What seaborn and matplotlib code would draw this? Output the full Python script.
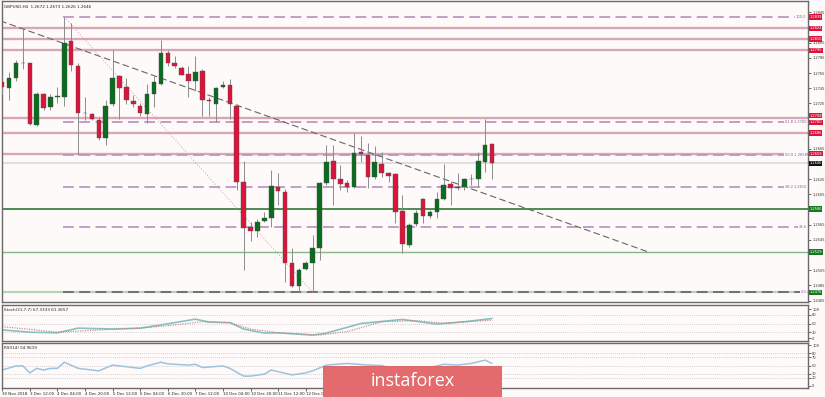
import numpy as np
import pandas as pd
import seaborn as sns
import matplotlib.pyplot as plt
from matplotlib.patches import Rectangle

# ===== DATA (GBPUSD H4) =====
opens = [1.2753, 1.2746, 1.2758, 1.2779, 1.2778, 1.2696, 1.2738, 1.2720, 1.2733, 1.2734,
         1.2808, 1.2775, 1.2712, 1.2711, 1.2703, 1.2679, 1.2724, 1.2761, 1.2747, 1.2728,
         1.2722, 1.2711, 1.2738, 1.2751, 1.2792, 1.2778, 1.2772, 1.2764, 1.2755, 1.2768,
         1.2729, 1.2724, 1.2747, 1.2749, 1.2722, 1.2621, 1.2562, 1.2557, 1.2570, 1.2574,
         1.2615, 1.2608, 1.2514, 1.2484, 1.2507, 1.2514, 1.2535, 1.2620, 1.2649, 1.2625,
         1.2620, 1.2615, 1.2661, 1.2657, 1.2628, 1.2645, 1.2633, 1.2632, 1.2583, 1.2539,
         1.2566, 1.2599, 1.2576, 1.2582, 1.2599, 1.2619, 1.2614, 1.2615, 1.2625, 1.2625,
         1.2648, 1.2672]
highs = [1.2755, 1.2766, 1.2782, 1.2824, 1.2779, 1.2740, 1.2739, 1.2738, 1.2747, 1.2839,
         1.2831, 1.2778, 1.2733, 1.2713, 1.2707, 1.2729, 1.2796, 1.2763, 1.2759, 1.2736,
         1.2726, 1.2751, 1.2761, 1.2809, 1.2795, 1.2788, 1.2775, 1.2775, 1.2788, 1.2771,
         1.2733, 1.2747, 1.2754, 1.2757, 1.2724, 1.2649, 1.2569, 1.2573, 1.2582, 1.2637,
         1.2633, 1.2612, 1.2535, 1.2508, 1.2517, 1.2552, 1.2621, 1.2670, 1.2670, 1.2644,
         1.2624, 1.2686, 1.2682, 1.2673, 1.2669, 1.2661, 1.2635, 1.2633, 1.2604, 1.2568,
         1.2585, 1.2600, 1.2585, 1.2608, 1.2645, 1.2623, 1.2633, 1.2627, 1.2632, 1.2661,
         1.2705, 1.2673]
lows = [1.2737, 1.2730, 1.2755, 1.2771, 1.2697, 1.2695, 1.2716, 1.2716, 1.2726, 1.2721,
        1.2768, 1.2657, 1.2703, 1.2703, 1.2677, 1.2670, 1.2721, 1.2705, 1.2724, 1.2720,
        1.2709, 1.2699, 1.2720, 1.2749, 1.2775, 1.2772, 1.2762, 1.2733, 1.2742, 1.2709,
        1.2709, 1.2700, 1.2745, 1.2705, 1.2611, 1.2506, 1.2543, 1.2549, 1.2569, 1.2562,
        1.2591, 1.2490, 1.2483, 1.2477, 1.2505, 1.2476, 1.2519, 1.2618, 1.2591, 1.2611,
        1.2608, 1.2614, 1.2648, 1.2614, 1.2625, 1.2628, 1.2621, 1.2568, 1.2528, 1.2536,
        1.2564, 1.2568, 1.2574, 1.2574, 1.2598, 1.2591, 1.2611, 1.2611, 1.2618, 1.2615,
        1.2635, 1.2626]
closes = [1.2747, 1.2758, 1.2779, 1.2778, 1.2698, 1.2738, 1.2719, 1.2733, 1.2735, 1.2805,
          1.2776, 1.2713, 1.2713, 1.2704, 1.2679, 1.2721, 1.2759, 1.2746, 1.2729, 1.2724,
          1.2712, 1.2738, 1.2753, 1.2792, 1.2779, 1.2774, 1.2763, 1.2754, 1.2767, 1.2729,
          1.2728, 1.2746, 1.2749, 1.2724, 1.2621, 1.2561, 1.2557, 1.2569, 1.2574, 1.2616,
          1.2610, 1.2514, 1.2484, 1.2506, 1.2514, 1.2535, 1.2620, 1.2648, 1.2625, 1.2619,
          1.2615, 1.2660, 1.2658, 1.2628, 1.2648, 1.2633, 1.2629, 1.2582, 1.2540, 1.2565,
          1.2581, 1.2577, 1.2582, 1.2599, 1.2618, 1.2614, 1.2615, 1.2625, 1.2626, 1.2649,
          1.2670, 1.2646]

x_labels = ["30 Nov 2018", "3 Dec 12:00", "4 Dec 04:00", "4 Dec 20:00", "5 Dec 12:00",
            "6 Dec 04:00", "6 Dec 20:00", "7 Dec 12:00", "10 Dec 04:00", "10 Dec 20:00",
            "11 Dec 12:00", "12 Dec 04:00", "12 Dec 20:00", "13 Dec 12:00", "14 Dec 04:00",
            "14 Dec 20:00", "17 Dec 12:00", "18 Dec 04:00"]
x_label_bars = list(range(0, 72, 4))

# drawn objects
pink_levels = [1.2824, 1.2810, 1.2795, 1.2706, 1.2686, 1.2659]
green_levels = [1.2586, 1.2529]
bottom_level = 1.2476
current_price = 1.2646
trend_bars = [-0.3, 93.7]
trend_prices = [1.2834, 1.2529]
fib_bars = [9, 45]
fib_prices = [1.2839, 1.2476]
fib_levels = [0.0, 23.6, 38.2, 50.0, 61.8, 100.0]
fib_texts = ["0.0", "23.6", "38.2 1.2615", "50.0 1.2658", "61.8 1.2700", "100.0"]

tag_prices = [1.2839, 1.2824, 1.2810, 1.2795, 1.2709, 1.2700, 1.2686, 1.2659,
              1.2646, 1.2586, 1.2529, 1.2476]
tag_texts = ["1.2839", "1.2824", "1.2810", "1.2795", "1.2708", "1.2700", "1.2686", "1.2659",
             "1.2646", "1.2586", "1.2529", "1.2476"]
tag_kinds = ["r", "r", "r", "r", "r", "r", "r", "r", "k", "g", "g", "g"]

# Stochastic (21,7,7)
stoch_k_bars = [0, 4, 8, 11, 16, 20, 23, 28, 30, 33, 35, 38, 40, 45, 47, 52, 58, 63, 67, 71]
stoch_k = [28, 20, 18, 34, 31, 34, 45, 65, 55, 53, 31, 17, 18, 10, 17, 50, 64, 48, 56, 67.3]
stoch_d_bars = [0, 4, 8, 16, 20, 25, 29, 33, 36, 40, 46, 50, 55, 60, 64, 71]
stoch_d = [39, 30, 20, 30, 34, 45, 56, 53, 31, 18, 10, 22, 56, 60, 51, 61.4]

# RSI(14)
rsi_bars = [0, 2, 3, 4, 5, 6, 7, 8, 9, 11, 12, 14, 16, 18, 20, 21, 23, 24, 27, 28, 29, 32,
            33, 35, 36, 38, 39, 40, 42, 44, 45, 47, 50, 53, 55, 57, 58, 60, 62, 64, 66, 68,
            70, 71]
rsi_vals = [39, 49, 49, 32, 43, 39, 43, 43, 58, 43, 41, 37, 51, 47, 43, 49, 58, 54, 51, 53,
            45, 49, 43, 24, 24, 29, 39, 35, 27, 32, 37, 51, 55, 51, 50, 40, 33, 42, 45, 53,
            51, 55, 63, 55]

# ===== STYLE =====
BG = "#fffafa"
GREEN = "#0b6b1f"
RED = "#dc143c"
W, H = 825, 397

sns.set_theme(style="white")
plt.rcParams["font.family"] = ["DejaVu Sans"]


def px_axes(x0, y0, x1, y1):
    return [x0 / W, 1 - y1 / H, (x1 - x0) / W, (y1 - y0) / H]


fig = plt.figure(figsize=(W / 100, H / 100), dpi=100, facecolor=BG)
ax = fig.add_axes(px_axes(2, 1, 808, 302))
ax_st = fig.add_axes(px_axes(2, 305, 808, 341))
ax_rsi = fig.add_axes(px_axes(2, 343, 808, 388))

XMIN, XMAX = -0.03, 116.8
for a in (ax, ax_st, ax_rsi):
    a.set_facecolor(BG)
    a.set_xlim(XMIN, XMAX)
    for s in a.spines.values():
        s.set_color("#6a6a6a")
        s.set_linewidth(1.0)
    a.yaxis.tick_right()
    a.tick_params(axis="y", labelsize=2.6, length=2, width=0.5, pad=1, colors="#333333")
    a.tick_params(axis="x", length=0)
    a.set_xticks([])

# ===== MAIN PRICE PANEL =====
ax.set_ylim(1.24632, 1.28601)
# price scale every 20 pips, minus the ones hidden under a coloured tag
price_ticks = [round(v, 4) for v in np.arange(1.2465, 1.2850, 0.0020)
               if min(abs(v - t) for t in tag_prices) > 0.00045]
ax.set_yticks(price_ticks)
ax.set_yticklabels([f"{v:.4f}" for v in price_ticks])

o = np.array(opens); h = np.array(highs); l = np.array(lows); c = np.array(closes)
bars = np.arange(len(o))
up = c >= o
body_lo = np.minimum(o, c)
body_h = np.maximum(np.abs(c - o), 0.00007)

# horizontal levels
for p in pink_levels:
    ax.axhline(p, color="#d7a7b6", lw=1.7, zorder=1)
ax.axhline(green_levels[0], color="#2f7a35", lw=1.2, zorder=1)
ax.axhline(green_levels[1], color="#86b986", lw=1.0, zorder=1)
ax.axhline(bottom_level, color="#b5d6b5", lw=1.6, zorder=1)
ax.axhline(current_price, color="#dcdcdc", lw=1.3, zorder=1)

# fibonacci retracement
fib_hi, fib_lo = fib_prices
for lvl, txt in zip(fib_levels, fib_texts):
    p = fib_lo + lvl / 100 * (fib_hi - fib_lo)
    col = "#6a6a6a" if lvl == 0 else "#bb98c4"
    ax.hlines(p, fib_bars[0] - 0.2, XMAX, color=col, lw=1.3, linestyle=(0, (6, 3)), zorder=2)
    ax.text(0.998, p, txt, transform=ax.get_yaxis_transform(), ha="right", va="center",
            fontsize=2.6, color="#8a5a9a", zorder=6,
            bbox=dict(fc=BG, ec="none", pad=0.3))
ax.plot(fib_bars, fib_prices, color="#d49aa4", lw=0.7, linestyle=(0, (1, 2)), zorder=2)

# trend line
ax.plot(trend_bars, trend_prices, color="#666666", lw=0.8, linestyle=(0, (6, 3)), zorder=2)

# candles
ax.vlines(bars, l, h, color="#8c8c8c", lw=0.7, zorder=3)
ax.bar(bars[up], body_h[up], bottom=body_lo[up], width=0.66, color=GREEN,
       edgecolor="#505050", linewidth=0.3, zorder=4)
ax.bar(bars[~up], body_h[~up], bottom=body_lo[~up], width=0.66, color=RED,
       edgecolor="#505050", linewidth=0.3, zorder=4)

# price tags on the right
tag_colors = {"r": RED, "k": "#111111", "g": "#157a1f"}
for p, txt, k in zip(tag_prices, tag_texts, tag_kinds):
    ax.text(1.0015, p, txt, transform=ax.get_yaxis_transform(), ha="left", va="center",
            fontsize=2.6, color="white", zorder=7, clip_on=False,
            bbox=dict(fc=tag_colors[k], ec="none", pad=0.5))

ax.text(0.003, 0.988, "GBPUSD,H4  1.2672 1.2673 1.2626 1.2646", transform=ax.transAxes,
        fontsize=3.0, color="#222222", ha="left", va="top")

# ===== STOCHASTIC PANEL =====
ax_st.set_ylim(-10.3, 113.8)
ax_st.set_yticks([0, 20, 50, 80, 100])
for lv in (20, 50, 80):
    ax_st.axhline(lv, color="#c4c4c4", lw=0.6, linestyle=(0, (1, 1.5)))
df_k = pd.DataFrame({"bar": stoch_k_bars, "val": stoch_k})
df_d = pd.DataFrame({"bar": stoch_d_bars, "val": stoch_d})
sns.lineplot(data=df_k, x="bar", y="val", ax=ax_st, color="#86c3c0", lw=1.2)
sns.lineplot(data=df_d, x="bar", y="val", ax=ax_st, color="#c27c7c", lw=0.8,
             linestyle=(0, (1, 1.2)))
ax_st.set_xlabel(""); ax_st.set_ylabel("")
ax_st.text(0.003, 0.92, "Stoch(21,7,7) 67.3333 61.3657", transform=ax_st.transAxes,
           fontsize=3.0, color="#222222", ha="left", va="top")

# ===== RSI PANEL =====
ax_rsi.set_ylim(-4.9, 104.9)
ax_rsi.set_yticks([0, 20, 30, 50, 70, 80, 100])
for lv in (20, 30, 50, 70, 80):
    ax_rsi.axhline(lv, color="#c4c4c4", lw=0.6, linestyle=(0, (1, 1.5)))
df_rsi = pd.DataFrame({"bar": rsi_bars, "val": rsi_vals})
sns.lineplot(data=df_rsi, x="bar", y="val", ax=ax_rsi, color="#9cc3de", lw=1.1)
ax_rsi.set_xlabel(""); ax_rsi.set_ylabel("")
ax_rsi.text(0.003, 0.93, "RSI(14) 54.9619", transform=ax_rsi.transAxes,
            fontsize=3.0, color="#222222", ha="left", va="top")

ax_rsi.set_xticks(x_label_bars)
ax_rsi.set_xticklabels(x_labels, fontsize=2.9, color="#222222", ha="left")
ax_rsi.tick_params(axis="x", length=2, width=0.5, pad=1.2, direction="out", bottom=True)
ax_rsi.set_xlim(XMIN, XMAX)

# ===== WATERMARK =====
ax_wm = fig.add_axes(px_axes(323, 366, 502, 397))
ax_wm.axis("off")
ax_wm.add_patch(Rectangle((0, 0), 1, 1, transform=ax_wm.transAxes, fc="#e36b6e", ec="#d85c60",
                          lw=0.6))
ax_wm.text(0.5, 0.5, "instaforex", transform=ax_wm.transAxes, ha="center", va="center",
           fontsize=13, color="white", family=["Open Sans", "DejaVu Sans"])

fig.savefig("out.png", dpi=100, facecolor=BG)
